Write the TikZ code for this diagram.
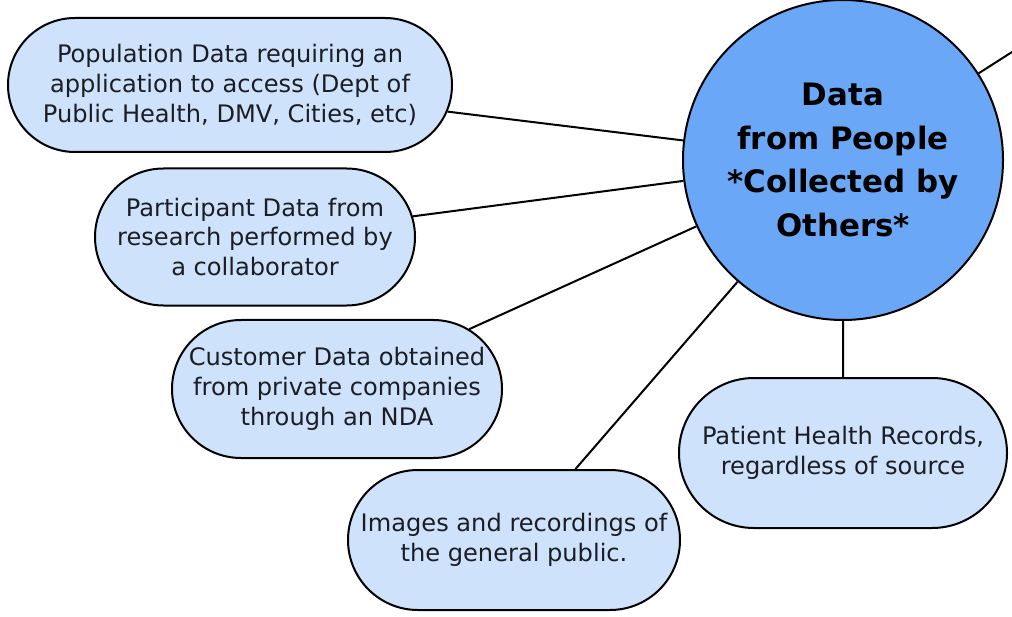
\documentclass[tikz,border=0pt]{standalone}
\usepackage{fontspec}
\setmainfont{DejaVu Sans}
\usetikzlibrary{shapes.misc}
\definecolor{pillblue}{HTML}{CFE2FB}
\definecolor{hubblue}{HTML}{6BA7F7}
\definecolor{inkdark}{HTML}{1B1D24}

\begin{document}
\begin{tikzpicture}[x=1bp,y=-1bp]
\tikzset{pill/.style = {rounded rectangle, draw = black, line width = 2bp,
  fill = pillblue, text = inkdark, align = center, inner sep = 0pt,
  font = \fontsize{24.2}{30}\selectfont},
  hub/.style = {circle, draw = black, line width = 2bp, fill = hubblue,
  align = center, inner sep = 0pt, minimum size = 320bp,
  font = \fontsize{31}{44}\selectfont\bfseries},
  link/.style = {line width = 2bp, draw = black}}
\useasboundingbox (0,0) rectangle (1012,617);
\node[hub] (hub) at (843,160) {Data\\from People\\*Collected by\\Others*};
\node[pill, minimum width = 444bp, minimum height = 134bp] (popdata) at (230,85)
  {Population Data requiring an\\application to access (Dept of\\Public Health, DMV, Cities, etc)};
\node[pill, minimum width = 320bp, minimum height = 137bp] (partdata) at (255,237)
  {Participant Data from\\research performed by\\a collaborator};
\node[pill, minimum width = 330bp, minimum height = 138bp] (custdata) at (337,389)
  {Customer Data obtained\\from private companies\\through an NDA};
\node[pill, minimum width = 332bp, minimum height = 140bp] (imgdata) at (514,540)
  {Images and recordings of\\the general public.};
\node[pill, minimum width = 328bp, minimum height = 150bp] (patdata) at (843,453)
  {Patient Health Records,\\regardless of source};
\coordinate (offpage) at (1012,52);
\draw[link] (popdata) -- (hub);
\draw[link] (partdata) -- (hub);
\draw[link] (custdata) -- (hub);
\draw[link] (imgdata) -- (hub);
\draw[link] (patdata) -- (hub);
\draw[link] (hub) -- (offpage);
\end{tikzpicture}
\end{document}
